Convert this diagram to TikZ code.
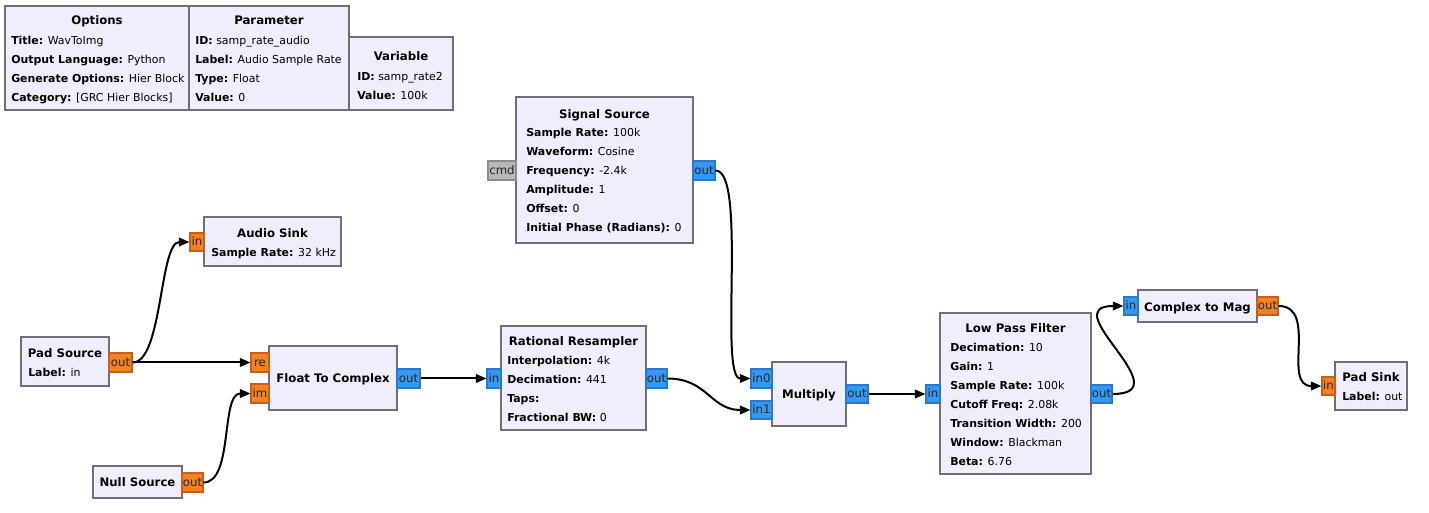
\documentclass[tikz,border=0pt]{standalone}
\usepackage{fontspec}
\setmainfont{DejaVu Sans}
\usetikzlibrary{fit,arrows.meta}
\definecolor{blkfill}{HTML}{F0EEFC}
\definecolor{bord}{HTML}{6E6E74}
\definecolor{orfill}{HTML}{F58220}
\definecolor{ordraw}{HTML}{C4601A}
\definecolor{blfill}{HTML}{3399F5}
\definecolor{bldraw}{HTML}{2A78C8}
\definecolor{grfill}{HTML}{B8B8B8}
\definecolor{grdraw}{HTML}{8C8C8C}
\tikzset{
  fs/.style={font=\fontsize{8.2pt}{10pt}\selectfont},
  blk/.style={draw=bord, fill=blkfill, line width=1.5pt, inner sep=0pt},
  ttl/.style={font=\fontsize{8.8pt}{10pt}\selectfont\bfseries, inner sep=0pt, anchor=mid},
  prm/.style={fs, inner sep=0pt, anchor=mid west},
  fport/.style={draw=ordraw, fill=orfill, line width=0.8pt, inner sep=0pt},
  cport/.style={draw=bldraw, fill=blfill, line width=0.8pt, inner sep=0pt},
  gport/.style={draw=grdraw, fill=grfill, line width=0.8pt, inner sep=0pt},
  ptxt/.style={font=\fontsize{8.8pt}{10pt}\selectfont, inner sep=0pt, anchor=mid, text=black!85},
  wire/.style={line width=1.5pt, -{Triangle[length=8pt,width=6.5pt]}}
}
\begin{document}
\begin{tikzpicture}[x=0.75pt,y=-0.75pt]
\useasboundingbox[fill=white] (0,0) rectangle (1429,513);

% ---------- blocks ----------
\node[blk, fit={(5,6) (189,110)}] (opt) {};
\node[blk, fit={(189,6) (349,110)}] (par) {};
\node[blk, fit={(349,37) (453,110)}] (var) {};
\node[blk, fit={(516,97) (693,243)}] (ss) {};
\node[blk, fit={(204,217) (341,266)}] (as) {};
\node[blk, fit={(21,337) (109,386)}] (psrc) {};
\node[blk, fit={(269,346) (397,410)}] (f2c) {};
\node[blk, fit={(93,466) (182,498)}] (ns) {};
\node[blk, fit={(501,326) (646,430)}] (rr) {};
\node[blk, fit={(772,362) (846,426)}] (mul) {};
\node[blk, fit={(940,313) (1091,474)}] (lpf) {};
\node[blk, fit={(1138,290) (1257,322)}] (ctm) {};
\node[blk, fit={(1335,362) (1407,410)}] (psink) {};

% ---------- block texts ----------
\node[ttl] (opt-t) at (97,21) {Options};
\node[prm] (opt-1) at (11,41) {\textbf{Title:} WavToImg};
\node[prm] (opt-2) at (11,60) {\textbf{Output Language:} Python};
\node[prm] (opt-3) at (11,79) {\textbf{Generate Options:} Hier Block};
\node[prm] (opt-4) at (11,98) {\textbf{Category:} [GRC Hier Blocks]};

\node[ttl] (par-t) at (269,21) {Parameter};
\node[prm] (par-1) at (195,41) {\textbf{ID:} samp\_rate\_audio};
\node[prm] (par-2) at (195,60) {\textbf{Label:} Audio Sample Rate};
\node[prm] (par-3) at (195,79) {\textbf{Type:} Float};
\node[prm] (par-4) at (195,98) {\textbf{Value:} 0};

\node[ttl] (var-t) at (401,57) {Variable};
\node[prm] (var-1) at (357,77) {\textbf{ID:} samp\_rate2};
\node[prm] (var-2) at (357,95.5) {\textbf{Value:} 100k};

\node[ttl] (ss-t) at (604.5,115) {Signal Source};
\node[prm] (ss-1) at (526,133) {\textbf{Sample Rate:} 100k};
\node[prm] (ss-2) at (526,152) {\textbf{Waveform:} Cosine};
\node[prm] (ss-3) at (526,171) {\textbf{Frequency:} -2.4k};
\node[prm] (ss-4) at (526,190) {\textbf{Amplitude:} 1};
\node[prm] (ss-5) at (526,209) {\textbf{Offset:} 0};
\node[prm] (ss-6) at (526,228) {\textbf{Initial Phase (Radians):} 0};

\node[ttl] (as-t) at (272.5,234) {Audio Sink};
\node[prm] (as-1) at (211,253) {\textbf{Sample Rate:} 32 kHz};

\node[ttl] (psrc-t) at (65,354) {Pad Source};
\node[prm] (psrc-1) at (28,373) {\textbf{Label:} in};

\node[ttl] (f2c-t) at (333,379) {Float To Complex};

\node[ttl] (ns-t) at (137.5,483) {Null Source};

\node[ttl] (rr-t) at (573.5,342) {Rational Resampler};
\node[prm] (rr-1) at (507,361) {\textbf{Interpolation:} 4k};
\node[prm] (rr-2) at (507,380) {\textbf{Decimation:} 441};
\node[prm] (rr-3) at (507,399) {\textbf{Taps:}};
\node[prm] (rr-4) at (507,418) {\textbf{Fractional BW:} 0};

\node[ttl] (mul-t) at (809,395) {Multiply};

\node[ttl] (lpf-t) at (1015.5,329) {Low Pass Filter};
\node[prm] (lpf-1) at (950,348) {\textbf{Decimation:} 10};
\node[prm] (lpf-2) at (950,367) {\textbf{Gain:} 1};
\node[prm] (lpf-3) at (950,386) {\textbf{Sample Rate:} 100k};
\node[prm] (lpf-4) at (950,405) {\textbf{Cutoff Freq:} 2.08k};
\node[prm] (lpf-5) at (950,424) {\textbf{Transition Width:} 200};
\node[prm] (lpf-6) at (950,443) {\textbf{Window:} Blackman};
\node[prm] (lpf-7) at (950,462) {\textbf{Beta:} 6.76};

\node[ttl] (ctm-t) at (1197.5,307.5) {Complex to Mag};

\node[ttl] (psink-t) at (1371,377.5) {Pad Sink};
\node[prm] (psink-1) at (1342,396.5) {\textbf{Label:} out};

% ---------- ports ----------
\node[gport, fit={(488,161) (516,180)}] (ss-cmd) {};
\node[cport, fit={(693,161) (715,180)}] (ss-out) {};
\node[fport, fit={(190,233) (204,251)}] (as-in) {};
\node[fport, fit={(109,353) (132,372)}] (psrc-out) {};
\node[fport, fit={(251,353) (269,372)}] (f2c-re) {};
\node[fport, fit={(251,384) (269,403)}] (f2c-im) {};
\node[cport, fit={(397,369) (420,388)}] (f2c-out) {};
\node[fport, fit={(182,473) (203,492)}] (ns-out) {};
\node[cport, fit={(487,369) (501,388)}] (rr-in) {};
\node[cport, fit={(646,369) (667,388)}] (rr-out) {};
\node[cport, fit={(751,369) (772,388)}] (mul-in0) {};
\node[cport, fit={(751,401) (772,419)}] (mul-in1) {};
\node[cport, fit={(846,385) (868,403)}] (mul-out) {};
\node[cport, fit={(926,385) (940,403)}] (lpf-in) {};
\node[cport, fit={(1091,385) (1112,403)}] (lpf-out) {};
\node[cport, fit={(1124,297) (1138,315)}] (ctm-in) {};
\node[fport, fit={(1257,297) (1278,315)}] (ctm-out) {};
\node[fport, fit={(1322,377) (1335,395)}] (psink-in) {};

% ---------- port labels ----------
\node[ptxt] (ss-cmd-l) at (ss-cmd.center) {cmd};
\node[ptxt] (ss-out-l) at (ss-out.center) {out};
\node[ptxt] (as-in-l) at (as-in.center) {in};
\node[ptxt] (psrc-out-l) at (psrc-out.center) {out};
\node[ptxt] (f2c-re-l) at (f2c-re.center) {re};
\node[ptxt] (f2c-im-l) at (f2c-im.center) {im};
\node[ptxt] (f2c-out-l) at (f2c-out.center) {out};
\node[ptxt] (ns-out-l) at (ns-out.center) {out};
\node[ptxt] (rr-in-l) at (rr-in.center) {in};
\node[ptxt] (rr-out-l) at (rr-out.center) {out};
\node[ptxt] (mul-in0-l) at (mul-in0.center) {in0};
\node[ptxt] (mul-in1-l) at (mul-in1.center) {in1};
\node[ptxt] (mul-out-l) at (mul-out.center) {out};
\node[ptxt] (lpf-in-l) at (lpf-in.center) {in};
\node[ptxt] (lpf-out-l) at (lpf-out.center) {out};
\node[ptxt] (ctm-in-l) at (ctm-in.center) {in};
\node[ptxt] (ctm-out-l) at (ctm-out.center) {out};
\node[ptxt] (psink-in-l) at (psink-in.center) {in};

% ---------- wires ----------
\draw[wire] (psrc-out.east) .. controls +(30,0) and +(-30,0) .. (as-in.west);
\draw[wire] (psrc-out.east) -- (f2c-re.west);
\draw[wire] (ns-out.east) .. controls +(30,0) and +(-30,0) .. (f2c-im.west);
\draw[wire] (f2c-out.east) -- (rr-in.west);
\draw[wire] (rr-out.east) .. controls +(40,0) and +(-40,0) .. (mul-in1.west);
\draw[wire] (ss-out.east) .. controls +(32,0) and +(-32,0) .. (mul-in0.west);
\draw[wire] (mul-out.east) -- (lpf-in.west);
\draw[wire] (lpf-out.east) .. controls +(70,0) and +(-70,0) .. (ctm-in.west);
\draw[wire] (ctm-out.east) .. controls +(40,0) and +(-40,0) .. (psink-in.west);
\end{tikzpicture}
\end{document}
